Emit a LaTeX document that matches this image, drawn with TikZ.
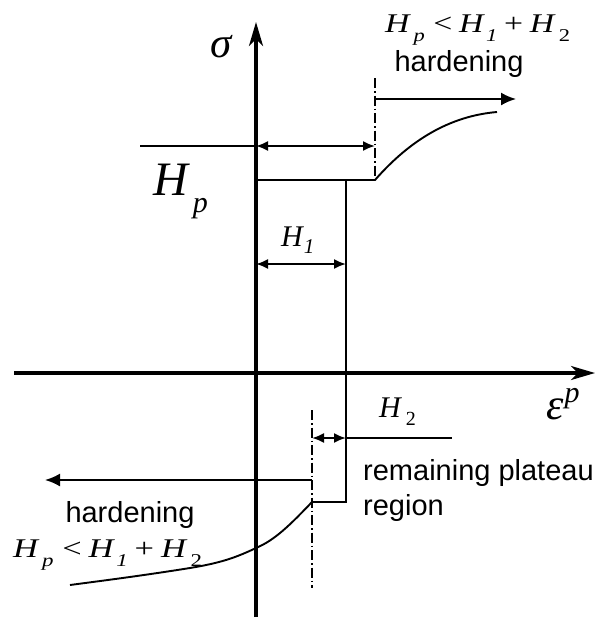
\documentclass[tikz,border=0pt]{standalone}
\usepackage{fontspec}
\setmainfont{Liberation Sans}
\newfontfamily\tms{Liberation Serif}
\usepackage{graphicx}
\usetikzlibrary{arrows.meta}
\newcommand\ineq[1]{\resizebox{#1}{\height}{\tms\fontsize{27}{27}\selectfont\itshape H\kern0.12em\raisebox{-0.36em}{\fontsize{18}{18}\selectfont p}\kern0.25em\upshape<\kern0.2em\itshape H\kern0.08em\raisebox{-0.36em}{\fontsize{18}{18}\selectfont 1}\kern0.2em\upshape+\kern0.2em\itshape H\kern0.14em\raisebox{-0.36em}{\fontsize{18}{18}\selectfont\upshape 2}}}
\begin{document}
\begin{tikzpicture}[x=1pt,y=-1pt,
  axis/.style={line width=3.4pt,-{Stealth[length=24pt,width=14pt,inset=7pt]}},
  thin/.style={line width=1.9pt},
  dd/.style={line width=1.4pt,dash pattern=on 10pt off 3pt on 1.5pt off 3pt},
  dim/.style={line width=1.9pt,{Latex[length=12pt,width=10pt]}-{Latex[length=12pt,width=10pt]}},
  arr/.style={line width=1.9pt,-{Latex[length=15pt,width=13pt]}},
  lab/.style={inner sep=0pt,anchor=base west},
  txt/.style={inner sep=0pt,anchor=base,font=\fontsize{29}{35}\selectfont}]
\useasboundingbox (0,0) rectangle (597,619);
% coordinates
\coordinate (vb) at (256,617);
\coordinate (vt) at (256,22);
\coordinate (hl) at (14,373);
\coordinate (hr) at (595,373);
\coordinate (p1) at (256,180);
\coordinate (p2) at (375,180);
\coordinate (p3) at (497,112);
\coordinate (r1) at (346,180);
\coordinate (r2) at (346,502);
\coordinate (q1) at (312,502);
\coordinate (q2) at (70,585);
\coordinate (d1t) at (375,78);
\coordinate (d1b) at (375,180);
\coordinate (d2t) at (312,410);
\coordinate (d2b) at (312,588);
\coordinate (a1) at (375,99);
\coordinate (a2) at (516,99);
\coordinate (b1) at (312,480);
\coordinate (b2) at (45,480);
\coordinate (u0) at (140,146);
\coordinate (u1) at (256,146);
\coordinate (u2) at (375,146);
\coordinate (h1a) at (256,264);
\coordinate (h1b) at (346,264);
\coordinate (h2a) at (312,438);
\coordinate (h2b) at (346,438);
\coordinate (h2c) at (452,438);
% axes
\draw[axis] (vb) -- (vt);
\draw[axis] (hl) -- (hr);
% plateau and curves
\draw[thin] (p1) -- (p2) .. controls (410,140) and (450,116) .. (p3);
\draw[thin] (r1) -- (r2) -- (q1) .. controls (290,525) and (275,540) .. (256,548) .. controls (235,558) and (220,563) .. (190,568) .. controls (140,576) and (100,581) .. (q2);
\draw[dd] (d1t) -- (d1b);
\draw[dd] (d2t) -- (d2b);
\draw[arr] (a1) -- (a2);
\draw[arr] (b1) -- (b2);
\draw[thin] (u0) -- (u1);
\draw[dim] (u1) -- (u2);
\draw[dim] (h1a) -- (h1b);
\draw[dim] (h2a) -- (h2b);
\draw[thin] (h2b) -- (h2c);
% labels
\node[inner sep=0pt] (sig) at (221,47) {\tms\itshape\fontsize{43}{43}\selectfont σ};
\node[lab] (eps) at (546,419) {\tms\itshape\fontsize{44}{44}\selectfont ε\kern1pt\raisebox{17pt}{\fontsize{30}{30}\selectfont p}};
\node[lab] (hp) at (153,195) {\tms\itshape\fontsize{48}{48}\selectfont H\kern5pt\raisebox{-17pt}{\fontsize{30}{30}\selectfont p}};
\node[lab] (h1) at (281,246) {\tms\itshape\fontsize{30}{30}\selectfont H\kern1pt\raisebox{-7pt}{\fontsize{21}{21}\selectfont 1}};
\node[lab] (h2) at (379,417) {\tms\itshape\fontsize{30}{30}\selectfont H\kern5pt\raisebox{-8pt}{\fontsize{20}{20}\selectfont\upshape 2}};
\node[lab] (ineqT) at (385,32) {\ineq{185pt}};
\node[txt] (hardT) at (459,71) {hardening};
\node[lab] (ineqB) at (13,557) {\ineq{189pt}};
\node[txt] (hardB) at (130,522) {hardening};
\node[txt,anchor=base west] (rem1) at (363,480) {remaining plateau};
\node[txt,anchor=base west] (rem2) at (363,515) {region};
\end{tikzpicture}
\end{document}
